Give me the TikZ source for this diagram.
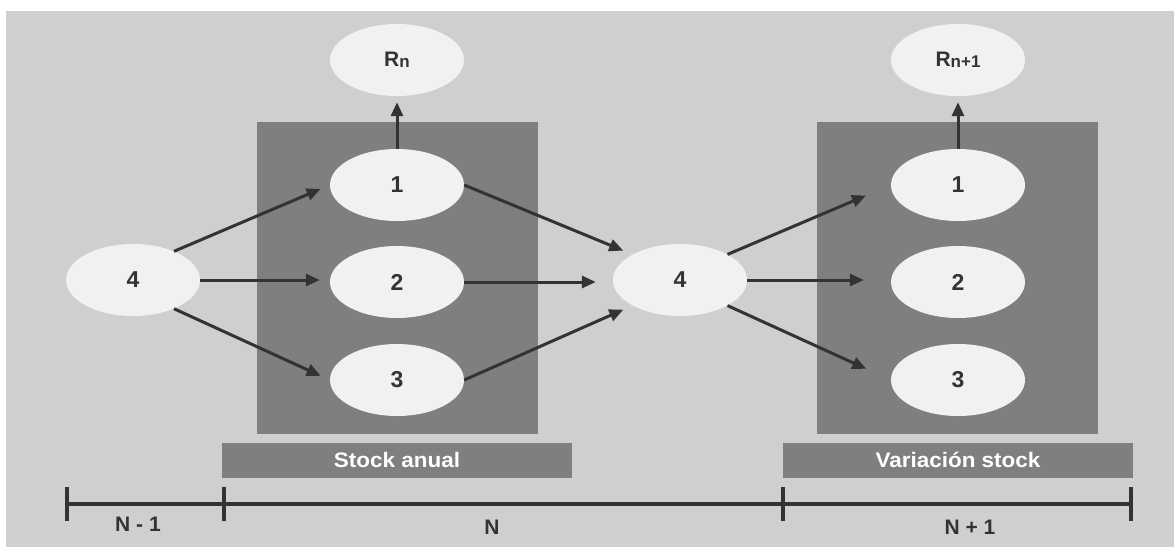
\documentclass[tikz,border=0pt]{standalone}
\usepackage{fontspec}
\setmainfont{Liberation Sans}
\newfontfamily\widesans[FakeStretch=1.07]{Liberation Sans}
\usetikzlibrary{shapes.geometric,arrows.meta}
\definecolor{bggray}{RGB}{208,207,207}
\definecolor{boxgray}{RGB}{127,127,127}
\definecolor{ovalfill}{RGB}{241,241,241}
\definecolor{ink}{RGB}{51,51,51}
\newcommand{\subidx}[1]{\raisebox{-1pt}{\fontsize{17}{17}\selectfont #1}}
\begin{document}
\begin{tikzpicture}[x=1pt,y=-1pt,
  oval/.style={ellipse, fill=ovalfill, minimum width=134pt, minimum height=72pt,
    inner sep=0pt, text=ink, font=\fontsize{23}{27}\selectfont\bfseries},
  roval/.style={oval, font=\fontsize{21}{25}\selectfont\bfseries},
  flow/.style={draw=ink, line width=3pt, -{Triangle[length=14pt,width=12pt]}, shorten >=#1},
  flow/.default=10pt,
  stockbox/.style={fill=boxgray},
  barlabel/.style={fill=boxgray, minimum width=350pt, minimum height=35pt, inner sep=0pt,
    text=white, font=\widesans\fontsize{21}{25}\selectfont\bfseries},
  tick/.style={draw=ink, line width=4pt},
  axis/.style={draw=ink, line width=3.5pt},
  period/.style={text=ink, font=\fontsize{21}{25}\selectfont\bfseries}
]
% canvas
\useasboundingbox (0,0) rectangle (1174,547);
\fill[white] (0,0) rectangle (1174,547);
\fill[bggray] (6,11) rectangle (1174,547);

% stock blocks
\fill[stockbox] (257,122) rectangle (538,434);
\fill[stockbox] (817,122) rectangle (1098,434);

% ovals
\node[oval] (l4) at (133,280) {4};
\node[roval] (rn) at (397,60) {R\subidx{n}};
\node[oval] (a1) at (397,185) {1};
\node[oval] (a2) at (397,282) {2};
\node[oval] (a3) at (397,380) {3};
\node[oval] (m4) at (680,280) {4};
\node[roval] (rn1) at (958,60) {R\subidx{n+1}};
\node[oval] (b1) at (958,185) {1};
\node[oval] (b2) at (958,282) {2};
\node[oval] (b3) at (958,380) {3};

% flows of year N
\draw[flow] (l4.35) -- (a1.west);
\draw[flow] (l4.east) -- (l4.east -| a2.west);
\draw[flow] (l4.-35) -- (a3.west);
\draw[flow=6pt] (a1.north) -- (rn.south);
\draw[flow] (a1.east) -- (m4.north west);
\draw[flow=17pt] (a2.east) -- (a2.east -| m4.west);
\draw[flow] (a3.east) -- (m4.south west);

% flows of year N+1
\draw[flow=27pt] (m4.north east) -- (b1.west);
\draw[flow=27pt] (m4.east) -- (m4.east -| b2.west);
\draw[flow=27pt] (m4.south east) -- (b3.west);
\draw[flow=6pt] (b1.north) -- (rn1.south);

% labels under the blocks
\node[barlabel] (sa) at (397,460) {Stock anual};
\node[barlabel] (vs) at (958,460) {Variación stock};

% time axis
\coordinate (t0) at (67,504);
\coordinate (t1) at (224,504);
\coordinate (t2) at (783,504);
\coordinate (t3) at (1131,504);
\draw[axis] (t0) -- (t3);
\foreach \t in {t0,t1,t2,t3}
  \draw[tick] ([yshift=-17pt]\t) -- ([yshift=17pt]\t);
\node[period] (p0) at (138,524) {N - 1};
\node[period] (p1) at (492,527) {N};
\node[period] (p2) at (970,527) {N + 1};
\end{tikzpicture}
\end{document}
